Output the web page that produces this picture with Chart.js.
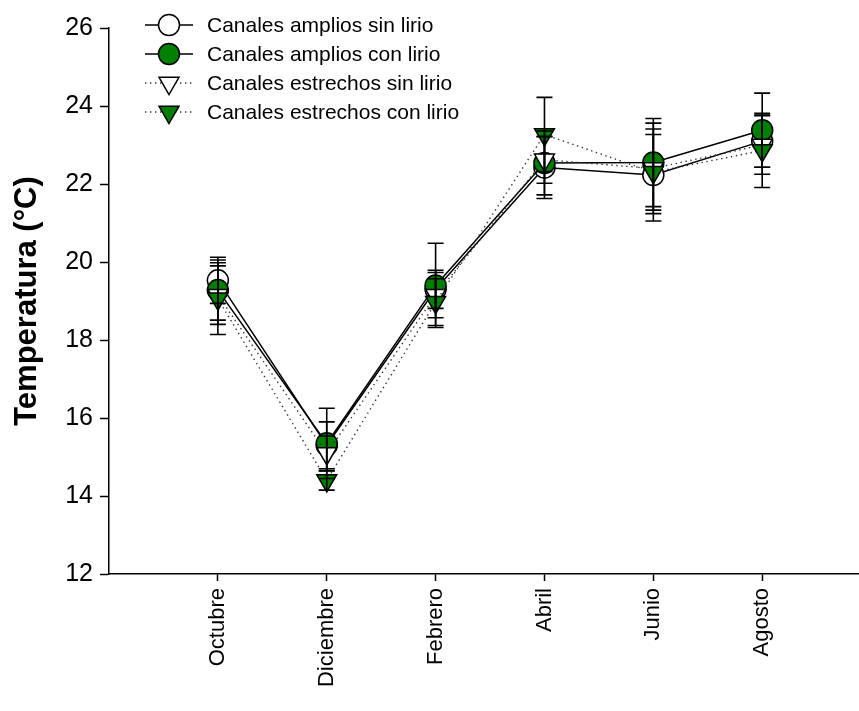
<!DOCTYPE html>
<html>
<head>
<meta charset="utf-8">
<script src="https://cdn.jsdelivr.net/npm/chart.js@4.4.1/dist/chart.umd.min.js"></script>
<style>
  html, body { margin: 0; padding: 0; background: #fff; }
  #wrap { width: 859px; height: 711px; }
</style>
</head>
<body>
<div id="wrap"><canvas id="tempChart"></canvas></div>
<script>
const months = ['Octubre', 'Diciembre', 'Febrero', 'Abril', 'Junio', 'Agosto'];

// means (°C)
const anchoSin = [19.53, 15.30, 19.30, 22.42, 22.23, 23.10];
const anchoCon = [19.28, 15.35, 19.40, 22.54, 22.55, 23.38];
const estrechoSin = [19.15, 15.09, 19.15, 22.62, 22.40, 23.00];
const estrechoCon = [19.06, 14.40, 18.97, 23.27, 22.30, 22.86];

// error bars (+/-)
const anchoSinErr = [0.59, 0.60, 0.49, 0.79, 1.18, 0.67];
const anchoConErr = [0.77, 0.90, 1.08, 0.82, 1.13, 0.95];
const estrechoSinErr = [0.75, 0.45, 0.58, 0.60, 1.16, 0.75];
const estrechoConErr = [0.92, 0.25, 0.60, 0.95, 0.97, 0.95];

const yTicks = [12, 14, 16, 18, 20, 22, 24, 26];

const FONT = "'Liberation Sans', Arial, sans-serif";
const GREEN = '#008000';

const toPoints = arr => arr.map((v, i) => ({ x: i + 1, y: v }));

function mkSet(label, vals, errs, style, fill, dotted, order) {
    return {
        label: label,
        data: toPoints(vals),
        errors: errs,
        borderColor: dotted ? '#333' : '#000',
        borderWidth: dotted ? 1.4 : 1.5,
        borderDash: dotted ? [1.4, 3.6] : [],
        pointStyle: style,
        pointRotation: style === 'triangle' ? 180 : 0,
        pointRadius: style === 'triangle' ? 11.5 : 10.5,
        pointBackgroundColor: fill,
        pointBorderColor: '#000',
        pointBorderWidth: 1.5,
        tension: 0,
        fill: false,
        order: order
    };
}

// vertical error bars with caps, drawn over the markers
const errorBars = {
    id: 'errorBars',
    afterDatasetsDraw(chart) {
        const ctx = chart.ctx;
        const xs = chart.scales.x, ys = chart.scales.y;
        ctx.save();
        ctx.strokeStyle = '#000';
        ctx.lineWidth = 1.6;
        ctx.setLineDash([]);
        chart.data.datasets.forEach(ds => {
            ds.data.forEach((p, i) => {
                const e = ds.errors[i];
                const x = xs.getPixelForValue(p.x);
                const yt = ys.getPixelForValue(p.y + e);
                const yb = ys.getPixelForValue(p.y - e);
                ctx.beginPath();
                ctx.moveTo(x, yt); ctx.lineTo(x, yb);
                ctx.moveTo(x - 8, yt); ctx.lineTo(x + 8, yt);
                ctx.moveTo(x - 8, yb); ctx.lineTo(x + 8, yb);
                ctx.stroke();
            });
        });
        ctx.restore();
    }
};

function marker(ctx, style, x, y, r, fill) {
    ctx.beginPath();
    if (style === 'circle') {
        ctx.arc(x, y, r, 0, Math.PI * 2);
    } else {
        // downward triangle, centroid at (x, y)
        ctx.moveTo(x, y + r);
        ctx.lineTo(x - r * Math.sqrt(3) / 2, y - r / 2);
        ctx.lineTo(x + r * Math.sqrt(3) / 2, y - r / 2);
        ctx.closePath();
    }
    ctx.fillStyle = fill;
    ctx.fill();
    ctx.lineWidth = 1.5;
    ctx.strokeStyle = '#000';
    ctx.setLineDash([]);
    ctx.stroke();
}

// legend: short line with the marker in the middle, like SigmaPlot
const lineLegend = {
    id: 'lineLegend',
    afterDraw(chart) {
        const ctx = chart.ctx;
        const rows = [25, 54, 83, 112];
        ctx.save();
        chart.data.datasets.forEach((ds, i) => {
            const y = rows[i];
            ctx.beginPath();
            ctx.strokeStyle = ds.borderColor;
            ctx.lineWidth = ds.borderWidth;
            ctx.setLineDash(ds.borderDash);
            ctx.moveTo(145, y); ctx.lineTo(193, y);
            ctx.stroke();
            marker(ctx, ds.pointStyle, 169, y, ds.pointRadius, ds.pointBackgroundColor);
            ctx.fillStyle = '#000';
            ctx.font = '21px ' + FONT;
            ctx.textAlign = 'left';
            ctx.textBaseline = 'middle';
            ctx.fillText(ds.label, 207, y + 1);
        });
        ctx.restore();
    }
};

const ctx = document.getElementById('tempChart').getContext('2d');
const tempChart = new Chart(ctx, {
    type: 'line',
    data: {
        datasets: [
            mkSet('Canales amplios sin lirio', anchoSin, anchoSinErr, 'circle', '#fff', false, 3),
            mkSet('Canales amplios con lirio', anchoCon, anchoConErr, 'circle', GREEN, false, 2),
            mkSet('Canales estrechos sin lirio', estrechoSin, estrechoSinErr, 'triangle', '#fff', true, 1),
            mkSet('Canales estrechos con lirio', estrechoCon, estrechoConErr, 'triangle', GREEN, true, 0)
        ]
    },
    options: {
        responsive: true,
        maintainAspectRatio: false,
        animation: false,
        devicePixelRatio: 1,
        layout: {
            autoPadding: false,
            padding: { top: 28, right: 1, left: 0, bottom: 0 }
        },
        plugins: {
            legend: { display: false },
            tooltip: { enabled: false }
        },
        scales: {
            x: {
                type: 'linear',
                min: 0,
                max: 6.88,
                afterBuildTicks: scale => {
                    scale.ticks = months.map((m, i) => ({ value: i + 1 }));
                },
                afterFit: scale => {
                    scale.height = 137;
                    scale.paddingRight = 0;
                    scale.paddingLeft = 0;
                },
                grid: {
                    display: true,
                    drawOnChartArea: false,
                    drawTicks: true,
                    tickLength: 7,
                    tickWidth: 1.5,
                    tickColor: '#000'
                },
                border: { display: true, color: '#000', width: 1.5 },
                ticks: {
                    autoSkip: false,
                    minRotation: 90,
                    maxRotation: 90,
                    padding: 7,
                    color: '#000',
                    font: { family: FONT, size: 22 },
                    callback: v => months[v - 1]
                }
            },
            y: {
                min: 12,
                max: 26,
                afterBuildTicks: scale => {
                    scale.ticks = yTicks.map(v => ({ value: v }));
                },
                afterFit: scale => { scale.width = 109; },
                grid: {
                    display: true,
                    drawOnChartArea: false,
                    drawTicks: true,
                    tickLength: 9,
                    tickWidth: 1.5,
                    tickColor: '#000'
                },
                border: { display: true, color: '#000', width: 1.5 },
                ticks: {
                    padding: 7,
                    color: '#000',
                    font: { family: FONT, size: 25 }
                },
                title: {
                    display: true,
                    text: 'Temperatura (°C)',
                    color: '#000',
                    padding: { top: 9, bottom: 0 },
                    font: { family: FONT, size: 31, weight: 'bold' }
                }
            }
        }
    },
    plugins: [errorBars, lineLegend]
});
</script>
</body>
</html>
